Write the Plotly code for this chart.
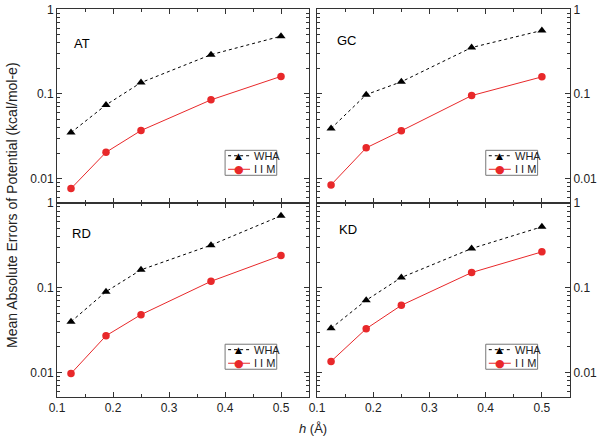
import plotly.graph_objects as go

h = [0.125, 0.1875, 0.25, 0.375, 0.5]
panels = ["AT", "GC", "RD", "KD"]
wha = {
    "AT": [0.0349, 0.074, 0.136, 0.291, 0.481],
    "GC": [0.039, 0.098, 0.139, 0.353, 0.562],
    "RD": [0.0397, 0.0899, 0.1625, 0.318, 0.707],
    "KD": [0.0332, 0.0711, 0.132, 0.290, 0.524],
}
iim = {
    "AT": [0.0076, 0.0204, 0.0369, 0.085, 0.161],
    "GC": [0.0084, 0.023, 0.0366, 0.0955, 0.159],
    "RD": [0.0097, 0.0271, 0.0481, 0.119, 0.24],
    "KD": [0.0135, 0.0328, 0.062, 0.151, 0.265],
}
series_names = ["WHA", "I I M"]
x_ticks = [0.1, 0.2, 0.3, 0.4, 0.5]
y_ticks = [0.01, 0.1, 1]
y_tick_labels = ["0.01", "0.1", "1"]

W, H = 601, 440
xdom = [[57 / W, 309 / W], [317 / W, 570 / W]]
ydom = [[1 - 203 / H, 1 - 9.3 / H], [1 - 397 / H, 1 - 203 / H]]
label_pos = {"AT": (0.058, 0.824), "GC": (0.071, 0.841),
             "RD": (0.052, 0.844), "KD": (0.080, 0.861)}
FONT = "Liberation Sans, Arial, sans-serif"
RED = "#e8282a"
AX = "#333"

fig = go.Figure()
shapes = []
annots = []
for i, p in enumerate(panels):
    col = i % 2
    row = i // 2
    n = "" if i == 0 else str(i + 1)
    fig.add_trace(go.Scatter(
        x=h, y=wha[p], name=series_names[0], mode="lines+markers",
        line=dict(color="black", width=1, dash="dot"),
        marker=dict(symbol="triangle-up", size=8, color="black"),
        xaxis="x" + n, yaxis="y" + n, showlegend=False))
    fig.add_trace(go.Scatter(
        x=h, y=iim[p], name=series_names[1], mode="lines+markers",
        line=dict(color=RED, width=1),
        marker=dict(symbol="circle", size=7.5, color=RED),
        xaxis="x" + n, yaxis="y" + n, showlegend=False))

    xa = dict(
        domain=xdom[col], range=[0.1, 0.55], anchor="y" + n,
        tickvals=x_ticks, ticks="inside", ticklen=5, tickwidth=1,
        tickcolor=AX, showline=True, linecolor=AX, linewidth=1,
        mirror="allticks", showgrid=False, zeroline=False,
        showticklabels=(row == 1), automargin=False,
        tickfont=dict(family=FONT, size=12, color="#222"),
        minor=dict(dtick=0.05, ticks="inside", ticklen=3, tickcolor=AX),
    )
    ya = dict(
        domain=ydom[row], type="log", range=[-2.29, 0], anchor="x" + n,
        tickvals=y_ticks, ticktext=y_tick_labels,
        ticks="inside", ticklen=5, tickwidth=1, tickcolor=AX,
        showline=True, linecolor=AX, linewidth=1, mirror="allticks",
        showgrid=False, zeroline=False, automargin=False,
        side="left" if col == 0 else "right",
        tickfont=dict(family=FONT, size=12, color="#222"),
        minor=dict(ticks="inside", ticklen=3, tickcolor=AX, dtick="D1"),
    )
    fig.update_layout({("xaxis" + n): xa, ("yaxis" + n): ya})

    xr, yr = "x" + n + " domain", "y" + n + " domain"
    lx, lyp = label_pos[p]
    annots.append(dict(
        text=p, xref=xr, yref=yr, x=lx, y=lyp, xanchor="left",
        yanchor="middle", showarrow=False,
        font=dict(family=FONT, size=13, color="black")))

    # legend box
    shapes.append(dict(type="rect", xref=xr, yref=yr, x0=0.667, x1=0.872,
                       y0=0.143, y1=0.272, line=dict(color="#777", width=1),
                       fillcolor="white", layer="above"))
    rows_y = [0.244, 0.174]
    styles = [dict(color="black", width=1, dash="dot"),
              dict(color=RED, width=1)]
    syms = ["▲", "●"]
    sym_sizes = [9, 11]
    sym_cols = ["black", RED]
    for k in range(2):
        shapes.append(dict(type="line", xref=xr, yref=yr, x0=0.679, x1=0.766,
                           y0=rows_y[k], y1=rows_y[k], line=styles[k],
                           layer="above"))
        annots.append(dict(text=syms[k], xref=xr, yref=yr, x=0.722,
                           y=rows_y[k], xanchor="center", yanchor="middle",
                           showarrow=False,
                           font=dict(family="DejaVu Sans", size=sym_sizes[k],
                                     color=sym_cols[k])))
        annots.append(dict(text=series_names[k], xref=xr, yref=yr, x=0.774,
                           y=rows_y[k], xanchor="left", yanchor="middle",
                           showarrow=False,
                           font=dict(family=FONT, size=11, color="#222")))

annots.append(dict(
    text="Mean Absolute Errors of Potential (kcal/mol-e)",
    xref="paper", yref="paper", x=12 / W, y=1 - 205 / H, textangle=-90,
    showarrow=False, xanchor="center", yanchor="middle",
    font=dict(family=FONT, size=14, color="#222")))
annots.append(dict(
    text="<i>h</i> (Å)", xref="paper", yref="paper", x=313 / W, y=1 - 428 / H,
    showarrow=False, xanchor="center", yanchor="middle",
    font=dict(family=FONT, size=13, color="#222")))

fig.update_layout(
    width=W, height=H, margin=dict(l=0, r=0, t=0, b=0, autoexpand=False),
    plot_bgcolor="white", paper_bgcolor="white", showlegend=False,
    shapes=shapes, annotations=annots,
)
fig.write_html("out.html", config={"displayModeBar": False},
               post_script="document.body.style.margin='0px';")
